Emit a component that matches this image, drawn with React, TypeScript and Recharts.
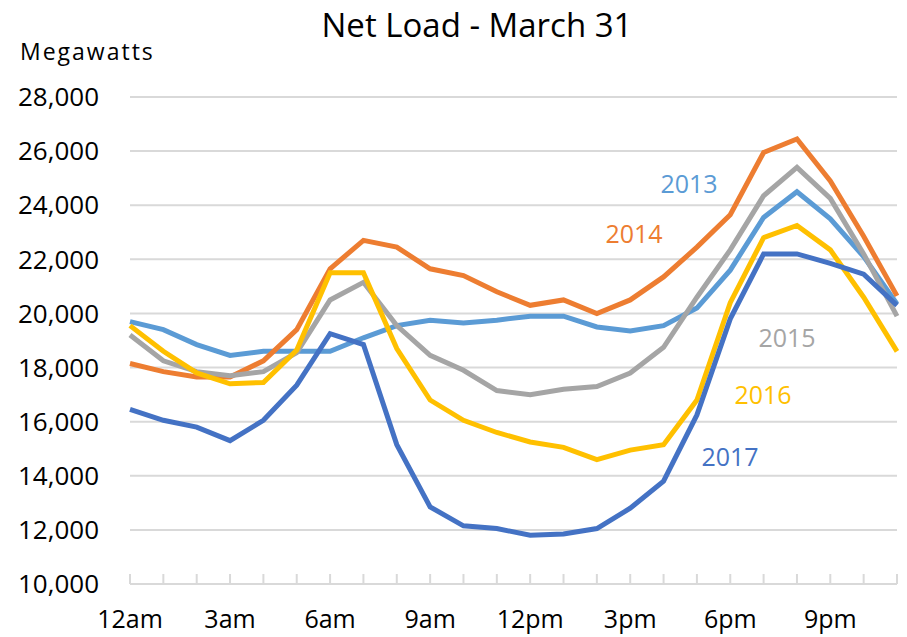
import React from "react";
import { LineChart, Line, XAxis, YAxis, CartesianGrid } from "recharts";

// hourly net load, March 31 (MW)
const hours = [
  "12am", "1am", "2am", "3am", "4am", "5am", "6am", "7am", "8am", "9am", "10am", "11am",
  "12pm", "1pm", "2pm", "3pm", "4pm", "5pm", "6pm", "7pm", "8pm", "9pm", "10pm", "11pm",
];

const load2013 = [19700, 19400, 18850, 18450, 18600, 18600, 18600, 19100, 19550, 19750, 19650, 19750, 19900, 19900, 19500, 19350, 19550, 20200, 21600, 23550, 24500, 23500, 22100, 20350];
const load2014 = [18150, 17850, 17650, 17650, 18250, 19400, 21650, 22700, 22450, 21650, 21400, 20800, 20300, 20500, 20000, 20500, 21350, 22450, 23650, 25950, 26450, 24900, 22850, 20650];
const load2015 = [19200, 18250, 17850, 17700, 17850, 18550, 20500, 21150, 19550, 18450, 17900, 17150, 17000, 17200, 17300, 17800, 18750, 20600, 22350, 24350, 25400, 24250, 22200, 19900];
const load2016 = [19550, 18600, 17800, 17400, 17450, 18650, 21500, 21500, 18700, 16800, 16050, 15600, 15250, 15050, 14600, 14950, 15150, 16800, 20400, 22800, 23250, 22350, 20600, 18600];
const load2017 = [16450, 16050, 15800, 15300, 16050, 17350, 19250, 18850, 15150, 12850, 12150, 12050, 11800, 11850, 12050, 12800, 13800, 16250, 19800, 22200, 22200, 21850, 21450, 20300];

const yTicks = [10000, 12000, 14000, 16000, 18000, 20000, 22000, 24000, 26000, 28000];

const series = [
  { key: "y2013", label: "2013", color: "#5B9BD5", values: load2013 },
  { key: "y2014", label: "2014", color: "#ED7D31", values: load2014 },
  { key: "y2015", label: "2015", color: "#A5A5A5", values: load2015 },
  { key: "y2016", label: "2016", color: "#FFC000", values: load2016 },
  { key: "y2017", label: "2017", color: "#4472C4", values: load2017 },
];

// where the year labels sit (Excel put them by hand)
const labelSpots = [
  { label: "2013", x: 689, y: 193 },
  { label: "2014", x: 634, y: 243 },
  { label: "2015", x: 787, y: 347 },
  { label: "2016", x: 763, y: 404 },
  { label: "2017", x: 730, y: 466 },
];

const data = hours.map((hour, i) => {
  const row: Record<string, string | number> = { hour };
  series.forEach((s) => {
    row[s.key] = s.values[i];
  });
  return row;
});

const GRID = "#d9d9d9";
const FONT = "'Open Sans', sans-serif";

function HourTick(props: any) {
  const { x, y, payload, index } = props;
  return (
    <g>
      <line x1={x} x2={x} y1={y - 10} y2={y} stroke={GRID} strokeWidth={2} />
      {index % 3 === 0 && (
        <text x={x} y={y + 44} textAnchor="middle" fontSize={25} fill="#000" fontFamily={FONT}>
          {payload.value}
        </text>
      )}
    </g>
  );
}

export default function App() {
  return (
    <div
      style={{
        position: "absolute",
        left: 0,
        top: 0,
        width: 907,
        height: 637,
        background: "#fff",
        fontFamily: FONT,
      }}
    >
      <LineChart
        width={907}
        height={637}
        data={data}
        margin={{ top: 97, right: 10, left: 0, bottom: 0 }}
      >
        <CartesianGrid vertical={false} stroke={GRID} strokeWidth={2} />
        <XAxis
          dataKey="hour"
          interval={0}
          height={53}
          tickSize={0}
          tickMargin={0}
          tickLine={false}
          axisLine={{ stroke: GRID, strokeWidth: 2 }}
          tick={<HourTick />}
        />
        <YAxis
          width={130}
          domain={[10000, 28000]}
          ticks={yTicks}
          axisLine={false}
          tickLine={false}
          tickSize={0}
          tickMargin={31}
          tick={{ fontSize: 26, fill: "#000", fontFamily: FONT }}
          tickFormatter={(v: number) => v.toLocaleString("en-US")}
        />
        {series.map((s) => (
          <Line
            key={s.key}
            dataKey={s.key}
            type="linear"
            stroke={s.color}
            strokeWidth={5}
            dot={false}
            activeDot={false}
            isAnimationActive={false}
          />
        ))}
      </LineChart>

      <svg
        width={907}
        height={637}
        style={{ position: "absolute", left: 0, top: 0, pointerEvents: "none" }}
      >
        <text x={477} y={37} textAnchor="middle" fontSize={33} fill="#000" fontFamily={FONT}>
          Net Load - March 31
        </text>
        <text x={20} y={60} fontSize={23} fill="#000" fontFamily={FONT} letterSpacing={2}>
          Megawatts
        </text>
        {labelSpots.map((l) => {
          const s = series.find((d) => d.label === l.label)!;
          return (
            <text
              key={l.label}
              x={l.x}
              y={l.y}
              textAnchor="middle"
              fontSize={25}
              fill={s.color}
              fontFamily={FONT}
            >
              {l.label}
            </text>
          );
        })}
      </svg>
    </div>
  );
}
